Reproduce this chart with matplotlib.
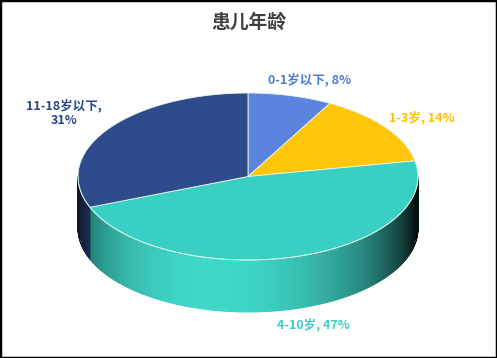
import numpy as np
import matplotlib
matplotlib.use("Agg")
import matplotlib.pyplot as plt
from matplotlib.patches import Polygon, Rectangle
from matplotlib.collections import PolyCollection
from matplotlib.colors import to_rgb

plt.rcParams['font.family'] = ['Noto Sans CJK SC', 'DejaVu Sans']

title = "患儿年龄"
categories = ["0-1岁以下", "1-3岁", "4-10岁", "11-18岁以下"]
values = [8, 14, 47, 31]
colors = ["#5A84DD", "#FFC60A", "#38D0C2", "#2E4B8B"]
label_colors = ["#4F7AD6", "#FFC000", "#38CFC2", "#2B4787"]

W, H = 497, 358
fig = plt.figure(figsize=(W / 100, H / 100), dpi=100)
ax = fig.add_axes([0, 0, 1, 1])
ax.set_xlim(0, W)
ax.set_ylim(H, 0)
ax.axis("off")

cx, cy, rx, ry, depth = 248, 176.5, 170, 83.5, 52

def pt(theta_deg):
    t = np.radians(theta_deg)
    return cx + rx * np.sin(t), cy - ry * np.cos(t)

total = sum(values)
bounds = np.concatenate([[0], np.cumsum(values) / total * 360])

def shade(theta):
    # side-wall normal direction -> brightness
    phi = np.degrees(np.arcsin(np.clip(np.sin(np.radians(theta)), -1, 1)))
    d = np.cos(np.radians(phi + 12))
    return 0.08 + 0.92 * max(0.0, d)

# side walls
polys, fcs = [], []
for i in range(len(values)):
    a0, a1 = max(bounds[i], 90), min(bounds[i + 1], 270)
    if a1 <= a0:
        continue
    th = np.linspace(a0, a1, max(2, int((a1 - a0) * 2)))
    base = np.array(to_rgb(colors[i]))
    if i == 2:
        base = np.array(to_rgb("#3ED8C8"))
    for t0, t1 in zip(th[:-1], th[1:]):
        x0, y0 = pt(t0)
        x1, y1 = pt(t1)
        polys.append([(x0, y0), (x1, y1), (x1, y1 + depth), (x0, y0 + depth)])
        s = shade((t0 + t1) / 2)
        fcs.append(np.clip(base * s, 0, 1))
ax.add_collection(PolyCollection(polys, facecolors=fcs, edgecolors=fcs, linewidths=0.6))

# top face
for i in range(len(values)):
    th = np.linspace(bounds[i], bounds[i + 1], 200)
    xs, ys = pt(th)
    verts = [(cx, cy)] + list(zip(xs, ys))
    ax.add_patch(Polygon(verts, closed=True, facecolor=colors[i],
                         edgecolor="#E8F4F2", linewidth=0.6))

# rim highlight on front
th = np.linspace(90, 270, 300)
xs, ys = pt(th)
ax.plot(xs, ys, color="#D8F2EE", lw=0.6)

# labels
ax.text(310, 80, f"{categories[0]}, {values[0]}%", color=label_colors[0],
        fontsize=9, fontweight="bold", ha="center", va="center")
ax.text(422, 118, f"{categories[1]}, {values[1]}%", color=label_colors[1],
        fontsize=9, fontweight="bold", ha="center", va="center")
ax.text(313, 325, f"{categories[2]}, {values[2]}%", color=label_colors[2],
        fontsize=9, fontweight="bold", ha="center", va="center")
ax.text(64, 113, f"{categories[3]},\n{values[3]}%", color=label_colors[3],
        fontsize=9, fontweight="bold", ha="center", va="center", linespacing=1.2)

ax.text(W / 2, 22, title, color="#404040", fontsize=13.5, fontweight="bold",
        ha="center", va="center")

fig.patches.append(Rectangle((0, 0), 1, 1, transform=fig.transFigure, fill=False,
                             edgecolor="black", linewidth=2.5))

fig.savefig("out.png", dpi=100)
